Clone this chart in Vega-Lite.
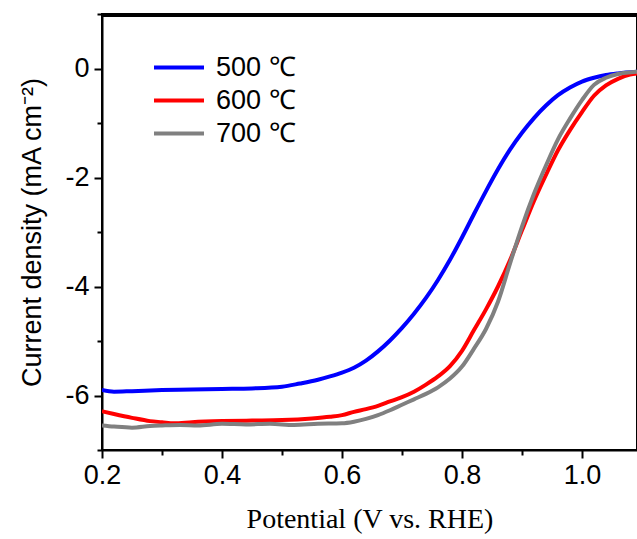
{
  "$schema": "https://vega.github.io/schema/vega-lite/v6.json",
  "width": 535,
  "height": 436,
  "autosize": "none",
  "padding": {"left": 102, "top": 14, "right": 0, "bottom": 89},
  "background": "white",
  "view": {"stroke": "black", "strokeWidth": 2},
  "config": {
    "axis": {
      "domainColor": "black", "domainWidth": 2,
      "tickColor": "black", "tickWidth": 2,
      "labelColor": "black", "labelFont": "Liberation Sans", "labelFontSize": 27,
      "titleColor": "black", "titleFontWeight": "normal", "grid": false
    }
  },
  "data": {"values": [
    {"v":0.20,"j":-5.90,"s":"500 ℃"},{"v":0.22,"j":-5.93,"s":"500 ℃"},{"v":0.25,"j":-5.92,"s":"500 ℃"},{"v":0.30,"j":-5.90,"s":"500 ℃"},{"v":0.35,"j":-5.89,"s":"500 ℃"},{"v":0.40,"j":-5.88,"s":"500 ℃"},{"v":0.45,"j":-5.87,"s":"500 ℃"},{"v":0.50,"j":-5.84,"s":"500 ℃"},{"v":0.53,"j":-5.78,"s":"500 ℃"},{"v":0.56,"j":-5.71,"s":"500 ℃"},{"v":0.58,"j":-5.65,"s":"500 ℃"},{"v":0.60,"j":-5.58,"s":"500 ℃"},{"v":0.62,"j":-5.49,"s":"500 ℃"},{"v":0.64,"j":-5.36,"s":"500 ℃"},{"v":0.66,"j":-5.19,"s":"500 ℃"},{"v":0.68,"j":-4.99,"s":"500 ℃"},{"v":0.70,"j":-4.76,"s":"500 ℃"},{"v":0.72,"j":-4.50,"s":"500 ℃"},{"v":0.74,"j":-4.21,"s":"500 ℃"},{"v":0.76,"j":-3.88,"s":"500 ℃"},{"v":0.78,"j":-3.51,"s":"500 ℃"},{"v":0.80,"j":-3.10,"s":"500 ℃"},{"v":0.82,"j":-2.67,"s":"500 ℃"},{"v":0.84,"j":-2.25,"s":"500 ℃"},{"v":0.86,"j":-1.85,"s":"500 ℃"},{"v":0.88,"j":-1.49,"s":"500 ℃"},{"v":0.90,"j":-1.18,"s":"500 ℃"},{"v":0.92,"j":-0.91,"s":"500 ℃"},{"v":0.94,"j":-0.68,"s":"500 ℃"},{"v":0.96,"j":-0.49,"s":"500 ℃"},{"v":0.98,"j":-0.35,"s":"500 ℃"},{"v":1.00,"j":-0.24,"s":"500 ℃"},{"v":1.02,"j":-0.17,"s":"500 ℃"},{"v":1.04,"j":-0.12,"s":"500 ℃"},{"v":1.06,"j":-0.09,"s":"500 ℃"},{"v":1.092,"j":-0.06,"s":"500 ℃"},
    {"v":0.20,"j":-6.29,"s":"600 ℃"},{"v":0.22,"j":-6.34,"s":"600 ℃"},{"v":0.25,"j":-6.41,"s":"600 ℃"},{"v":0.28,"j":-6.47,"s":"600 ℃"},{"v":0.30,"j":-6.49,"s":"600 ℃"},{"v":0.32,"j":-6.51,"s":"600 ℃"},{"v":0.35,"j":-6.49,"s":"600 ℃"},{"v":0.40,"j":-6.47,"s":"600 ℃"},{"v":0.45,"j":-6.46,"s":"600 ℃"},{"v":0.50,"j":-6.45,"s":"600 ℃"},{"v":0.55,"j":-6.42,"s":"600 ℃"},{"v":0.58,"j":-6.39,"s":"600 ℃"},{"v":0.60,"j":-6.36,"s":"600 ℃"},{"v":0.62,"j":-6.30,"s":"600 ℃"},{"v":0.64,"j":-6.25,"s":"600 ℃"},{"v":0.66,"j":-6.19,"s":"600 ℃"},{"v":0.68,"j":-6.11,"s":"600 ℃"},{"v":0.70,"j":-6.03,"s":"600 ℃"},{"v":0.72,"j":-5.93,"s":"600 ℃"},{"v":0.74,"j":-5.80,"s":"600 ℃"},{"v":0.76,"j":-5.65,"s":"600 ℃"},{"v":0.78,"j":-5.46,"s":"600 ℃"},{"v":0.80,"j":-5.18,"s":"600 ℃"},{"v":0.82,"j":-4.80,"s":"600 ℃"},{"v":0.84,"j":-4.42,"s":"600 ℃"},{"v":0.86,"j":-4.00,"s":"600 ℃"},{"v":0.88,"j":-3.52,"s":"600 ℃"},{"v":0.90,"j":-2.97,"s":"600 ℃"},{"v":0.92,"j":-2.43,"s":"600 ℃"},{"v":0.94,"j":-1.95,"s":"600 ℃"},{"v":0.96,"j":-1.50,"s":"600 ℃"},{"v":0.98,"j":-1.13,"s":"600 ℃"},{"v":1.00,"j":-0.80,"s":"600 ℃"},{"v":1.02,"j":-0.50,"s":"600 ℃"},{"v":1.04,"j":-0.31,"s":"600 ℃"},{"v":1.06,"j":-0.19,"s":"600 ℃"},{"v":1.08,"j":-0.11,"s":"600 ℃"},{"v":1.092,"j":-0.09,"s":"600 ℃"},
    {"v":0.20,"j":-6.55,"s":"700 ℃"},{"v":0.22,"j":-6.57,"s":"700 ℃"},{"v":0.25,"j":-6.59,"s":"700 ℃"},{"v":0.28,"j":-6.56,"s":"700 ℃"},{"v":0.30,"j":-6.55,"s":"700 ℃"},{"v":0.33,"j":-6.54,"s":"700 ℃"},{"v":0.36,"j":-6.55,"s":"700 ℃"},{"v":0.40,"j":-6.52,"s":"700 ℃"},{"v":0.44,"j":-6.53,"s":"700 ℃"},{"v":0.48,"j":-6.52,"s":"700 ℃"},{"v":0.52,"j":-6.54,"s":"700 ℃"},{"v":0.56,"j":-6.52,"s":"700 ℃"},{"v":0.60,"j":-6.51,"s":"700 ℃"},{"v":0.62,"j":-6.48,"s":"700 ℃"},{"v":0.64,"j":-6.43,"s":"700 ℃"},{"v":0.66,"j":-6.36,"s":"700 ℃"},{"v":0.68,"j":-6.27,"s":"700 ℃"},{"v":0.70,"j":-6.17,"s":"700 ℃"},{"v":0.72,"j":-6.07,"s":"700 ℃"},{"v":0.74,"j":-5.97,"s":"700 ℃"},{"v":0.76,"j":-5.85,"s":"700 ℃"},{"v":0.78,"j":-5.69,"s":"700 ℃"},{"v":0.80,"j":-5.47,"s":"700 ℃"},{"v":0.82,"j":-5.14,"s":"700 ℃"},{"v":0.84,"j":-4.78,"s":"700 ℃"},{"v":0.86,"j":-4.28,"s":"700 ℃"},{"v":0.88,"j":-3.58,"s":"700 ℃"},{"v":0.90,"j":-2.90,"s":"700 ℃"},{"v":0.92,"j":-2.30,"s":"700 ℃"},{"v":0.94,"j":-1.78,"s":"700 ℃"},{"v":0.96,"j":-1.30,"s":"700 ℃"},{"v":0.98,"j":-0.92,"s":"700 ℃"},{"v":1.00,"j":-0.58,"s":"700 ℃"},{"v":1.02,"j":-0.30,"s":"700 ℃"},{"v":1.04,"j":-0.17,"s":"700 ℃"},{"v":1.06,"j":-0.10,"s":"700 ℃"},{"v":1.092,"j":-0.06,"s":"700 ℃"}
  ]},
  "layer": [
    {
      "mark": {"type": "line", "strokeWidth": 4, "interpolate": "monotone", "clip": true},
      "encoding": {
        "x": {
          "field": "v", "type": "quantitative",
          "scale": {"domain": [0.2, 1.0917], "nice": false, "zero": false},
          "axis": {
            "title": "Potential (V vs. RHE)",
            "titleFont": "Liberation Serif", "titleFontSize": 28, "titlePadding": 17,
            "values": [0.2, 0.3, 0.4, 0.5, 0.6, 0.7, 0.8, 0.9, 1.0],
            "labelExpr": "round(datum.value*10)%2==0 ? format(datum.value,'.1f') : ''",
            "tickSize": {"condition": {"test": "round(datum.value*10)%2==0", "value": 8}, "value": 5},
            "labelPadding": 4, "labelFlush": false
          }
        },
        "y": {
          "field": "j", "type": "quantitative",
          "scale": {"domain": [-7, 1], "nice": false, "zero": false},
          "axis": {
            "title": "Current density (mA cm⁻²)",
            "titleFont": "Liberation Sans", "titleFontSize": 27, "titlePadding": 18,
            "values": [-7, -6, -5, -4, -3, -2, -1, 0, 1],
            "labelExpr": "datum.value%2==0 ? '' + datum.value : ''",
            "tickSize": {"condition": {"test": "datum.value%2==0", "value": 8}, "value": 5},
            "labelPadding": 5
          }
        },
        "color": {
          "field": "s", "type": "nominal",
          "scale": {"domain": ["500 ℃", "600 ℃", "700 ℃"], "range": ["#0000ff", "#ff0000", "#808080"]},
          "legend": {
            "title": null, "orient": "none", "legendX": 50, "legendY": 37,
            "symbolType": "stroke", "symbolSize": 2500, "symbolStrokeWidth": 4,
            "labelFont": "Liberation Sans", "labelFontSize": 27, "labelColor": "black",
            "labelOffset": 10, "rowPadding": 0, "clipHeight": 33
          }
        }
      }
    },
    {
      "mark": {"type": "rule", "strokeWidth": 2.5, "color": "black", "clip": false},
      "encoding": {"y": {"datum": 0.97}}
    }
  ]
}
